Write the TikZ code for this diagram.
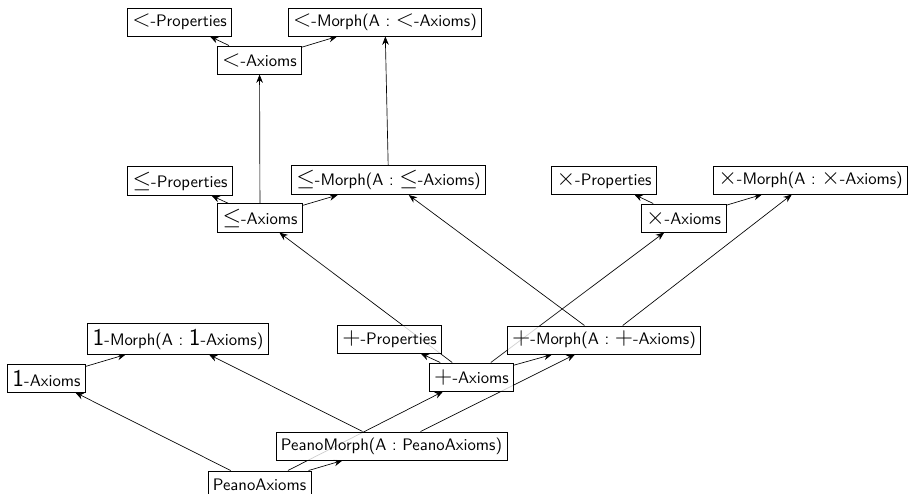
\documentclass[tikz,border=0pt]{standalone}
\usetikzlibrary{arrows.meta,backgrounds}
\newcommand{\opsym}[1]{{\Large$#1$}}
\newcommand{\onesym}{{\Large 1}}
\begin{document}
\begin{tikzpicture}[x=0.6pt,y=-0.6pt,
  box/.style={draw, fill=white, fill opacity=0.8, text opacity=1, inner sep=3pt,
    minimum height=17pt, font=\sffamily},
  arr/.style={-{Stealth[length=5pt,width=4pt]}}]
\useasboundingbox (0,0) rectangle (916,493);
% top level
\node[box] (ltP) at (179.5,22) {\opsym{<}-Properties};
\node[box] (ltM) at (385,22) {\opsym{<}-Morph(A : \opsym{<}-Axioms)};
\node[box] (ltA) at (259.5,60) {\opsym{<}-Axioms};
% leq level
\node[box] (leP) at (180,181) {\opsym{\leq}-Properties};
\node[box] (leM) at (388.5,180) {\opsym{\leq}-Morph(A : \opsym{\leq}-Axioms)};
\node[box] (leA) at (260,218) {\opsym{\leq}-Axioms};
% times level
\node[box] (tiP) at (604,180) {\opsym{\times}-Properties};
\node[box] (tiM) at (810.5,180) {\opsym{\times}-Morph(A : \opsym{\times}-Axioms)};
\node[box] (tiA) at (683.5,218) {\opsym{\times}-Axioms};
% one level
\node[box] (oneM) at (178,339) {\onesym-Morph(A : \onesym-Axioms)};
\node[box] (oneA) at (46.5,378) {\onesym-Axioms};
% plus level
\node[box] (plP) at (389.5,339) {\opsym{+}-Properties};
\node[box] (plM) at (604,340) {\opsym{+}-Morph(A : \opsym{+}-Axioms)};
\node[box] (plA) at (471.5,377) {\opsym{+}-Axioms};
% peano
\node[box] (pM) at (391.5,446) {PeanoMorph(A : PeanoAxioms)};
\node[box] (pA) at (259.5,485) {PeanoAxioms};
\begin{scope}[on background layer]
\draw[arr] (pA) -- (oneA);
\draw[arr] (pA) -- (pM);
\draw[arr] (pA) -- (plA);
\draw[arr] (pM) -- (oneM);
\draw[arr] (pM) -- (plM);
\draw[arr] (oneA) -- (oneM);
\draw[arr] (plA) -- (plP);
\draw[arr] (plA) -- (plM);
\draw[arr] (plA) -- (leA);
\draw[arr] (plA) -- (tiA);
\draw[arr] (plM) -- (leM);
\draw[arr] (plM) -- (tiM);
\draw[arr] (leA) -- (leP);
\draw[arr] (leA) -- (leM);
\draw[arr] (leA) -- (ltA);
\draw[arr] (leM) -- (ltM);
\draw[arr] (ltA) -- (ltP);
\draw[arr] (ltA) -- (ltM);
\draw[arr] (tiA) -- (tiP);
\draw[arr] (tiA) -- (tiM);
\end{scope}
\end{tikzpicture}
\end{document}
